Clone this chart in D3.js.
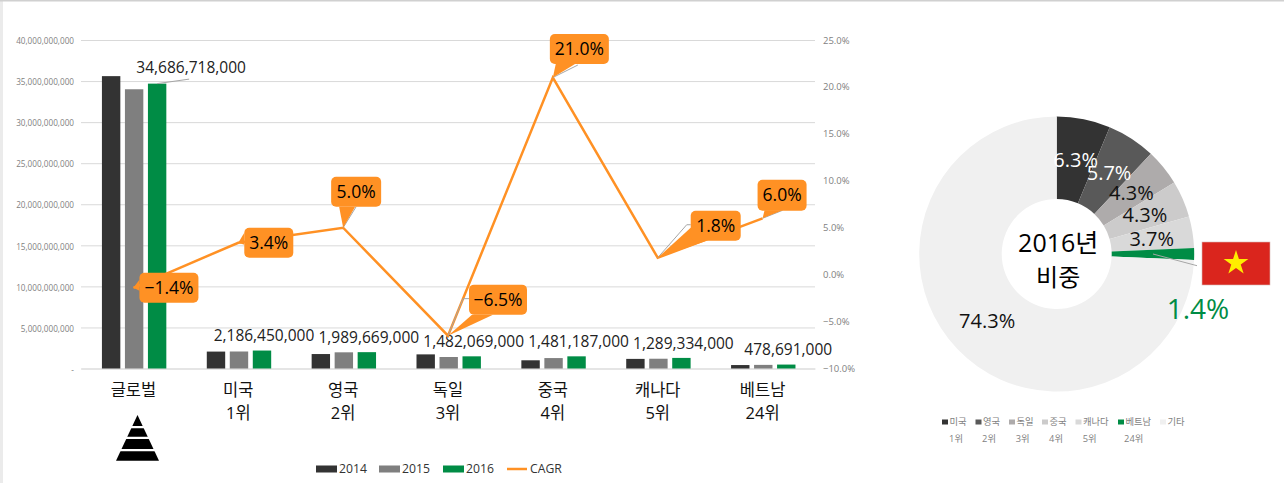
<!DOCTYPE html>
<html lang="ko">
<head>
    <meta charset="UTF-8">
    <title>2016 CAGR</title>
    <style>
        html, body { margin: 0; padding: 0; background: #fff; }
        svg { display: block; }
        text { font-family: "Open Sans", "Noto Sans CJK KR", sans-serif; }
        .tick text { fill: #7f7f7f; }
        .grid .tick line { stroke: #d9d9d9; }
        .cat .tick text { fill: #111; font-size: 16.5px; }
    </style>
</head>
<body>
    <svg width="1284" height="483"></svg>
    <script src="https://d3js.org/d3.v7.min.js"></script>
    <script>
        // Bar + line data
        const categories = ['글로벌', '미국', '영국', '독일', '중국', '캐나다', '베트남'];
        const ranks = ['', '1위', '2위', '3위', '4위', '5위', '24위'];
        const years = ['2014', '2015', '2016'];
        const values2014 = [35600000000, 2060000000, 1760000000, 1720000000, 1000000000, 1170000000, 420000000];
        const values2015 = [34000000000, 2070000000, 1970000000, 1400000000, 1270000000, 1190000000, 440000000];
        const values2016 = [34686718000, 2186450000, 1989669000, 1482069000, 1481187000, 1289334000, 478691000];
        const cagr = [-1.4, 3.4, 5.0, -6.5, 21.0, 1.8, 6.0];
        const yearColors = ['#333333', '#7f7f7f', '#008c45'];
        const lineColor = '#ff9124';

        // Donut data
        const shareNames = ['미국', '영국', '독일', '중국', '캐나다', '베트남', '기타'];
        const shareRanks = ['1위', '2위', '3위', '4위', '5위', '24위', ''];
        const shareValues = [6.3, 5.7, 4.3, 4.3, 3.7, 1.4, 74.3];
        const shareColors = ['#333333', '#595959', '#aeabab', '#cccbcb', '#d9d9d9', '#008c45', '#f0f0f0'];
        const shareTextColors = ['#fff', '#fff', '#111', '#111', '#111', 'none', '#111'];

        // Callout layout, offsets from the data point: box, pointer base, grey leader
        const callouts = [
            { box: [6, -15, 59, 30], base: [[6, -8], [6, 3]], leader: [] },
            { box: [6, -15, 49, 30], base: [[6, -10], [6, 2]], leader: [] },
            { box: [-12, -51, 50, 30], base: [[-4, -21], [12, -21]], leader: [[13, -21]] },
            { box: [21, -51, 58, 30], base: [[24, -21], [45, -21]], leader: [[15, -37], [21, -37]] },
            { box: [-3, -43.5, 59, 30], base: [[3, -14], [23, -14]], leader: [[25, -12.5]] },
            { box: [33, -47, 50, 30], base: [[33, -30], [49, -17]], leader: [[29, -33], [33, -33]] },
            { box: [-5, -38.5, 49, 31], base: [[2, -8], [20, -8]], leader: [[20, -8]] }
        ];

        const plot = { left: 81, right: 815, top: 40, bottom: 368.5 };

        const svg = d3.select('svg');

        // page edge
        svg.append('rect').attr('width', 3).attr('height', 483).attr('fill', '#ebebeb');
        svg.append('rect').attr('width', 1284).attr('height', 1.5).attr('fill', '#d0d0d0');

        const xScale = d3.scaleBand().domain(categories).range([plot.left, plot.right]);
        const xInner = d3.scaleBand().domain(years).range([0, 64.4]).paddingInner(0.2);
        const yLeft = d3.scaleLinear().domain([0, 40000000000]).range([plot.bottom, plot.top]);
        const yRight = d3.scaleLinear().domain([-10, 25]).range([plot.bottom, plot.top]);

        const leftAxis = d3.axisLeft(yLeft)
            .ticks(8)
            .tickSize(-(plot.right - plot.left))
            .tickPadding(7)
            .tickFormat(function (d) { return d === 0 ? '-' : d3.format(',')(d); });

        const leftG = svg.append('g')
            .attr('class', 'grid')
            .attr('transform', 'translate(' + plot.left + ' 0)')
            .call(leftAxis);
        leftG.select('.domain').remove();
        leftG.selectAll('text').style('font-size', '8.2px').attr('dy', '.45em');

        const rightAxis = d3.axisRight(yRight)
            .ticks(7)
            .tickSize(0)
            .tickPadding(8)
            .tickFormat(function (d) { return d3.format('.1f')(d) + '%'; });

        const rightG = svg.append('g')
            .attr('transform', 'translate(' + plot.right + ' 0)')
            .call(rightAxis);
        rightG.select('.domain').remove();
        rightG.selectAll('text').style('font-size', '9.5px');

        // Category axis with the rank on a second line
        const catG = svg.append('g')
            .attr('class', 'cat')
            .attr('transform', 'translate(0 ' + plot.bottom + ')')
            .call(d3.axisBottom(xScale).tickSize(0));
        catG.select('.domain').attr('stroke', '#e3e3e3').attr('stroke-width', 1.5);
        catG.selectAll('.tick text').attr('y', 27).attr('dy', 0);
        catG.selectAll('.tick')
            .append('text')
            .attr('y', 50)
            .attr('text-anchor', 'middle')
            .text(function (d, i) { return ranks[i]; });

        // Bars
        const groupShift = xScale.bandwidth() / 2 - 31.5;
        const series = [values2014, values2015, values2016];
        series.forEach(function (values, s) {
            svg.append('g')
                .selectAll('rect')
                .data(values)
                .join('rect')
                .attr('x', function (d, i) {
                    return xScale(categories[i]) + groupShift + xInner(years[s]);
                })
                .attr('y', function (d) { return yLeft(d); })
                .attr('width', xInner.bandwidth())
                .attr('height', function (d) { return plot.bottom - yLeft(d); })
                .attr('fill', yearColors[s]);
        });

        function barCenter(i) {
            return xScale(categories[i]) + groupShift + xInner('2016') + xInner.bandwidth() / 2;
        }

        // 2016 value labels
        svg.append('g')
            .selectAll('text')
            .data(values2016)
            .join('text')
            .attr('x', function (d, i) { return barCenter(i) + (i === 0 ? 34 : 2); })
            .attr('y', function (d, i) { return yLeft(d) - (i === 0 ? 16 : 14.5); })
            .attr('dy', '.35em')
            .attr('text-anchor', 'middle')
            .attr('fill', '#222')
            .style('font-size', '15.5px')
            .text(d3.format(','));

        svg.append('line')
            .attr('x1', barCenter(0))
            .attr('y1', yLeft(values2016[0]))
            .attr('x2', barCenter(0) + 32)
            .attr('y2', yLeft(values2016[0]) - 4.5)
            .attr('stroke', '#a6a6a6');

        // CAGR line
        const pointX = function (i) { return xScale(categories[i]) + xScale.bandwidth() / 2; };
        const line = d3.line()
            .x(function (d, i) { return pointX(i); })
            .y(function (d) { return yRight(d); });

        svg.append('path')
            .attr('fill', 'none')
            .attr('stroke', lineColor)
            .attr('stroke-width', 2.5)
            .attr('d', line(cagr));

        // Callouts
        const calloutG = svg.append('g')
            .selectAll('g')
            .data(cagr)
            .join('g')
            .attr('transform', function (d, i) {
                return 'translate(' + pointX(i) + ' ' + yRight(d) + ')';
            });

        calloutG.append('path')
            .attr('fill', 'none')
            .attr('stroke', '#a6a6a6')
            .attr('d', function (d, i) {
                return d3.line()([[0, 0]].concat(callouts[i].leader));
            });

        calloutG.append('path')
            .attr('fill', lineColor)
            .attr('d', function (d, i) {
                return d3.line()([[0, 0]].concat(callouts[i].base)) + 'Z';
            });

        calloutG.append('rect')
            .attr('x', function (d, i) { return callouts[i].box[0]; })
            .attr('y', function (d, i) { return callouts[i].box[1]; })
            .attr('width', function (d, i) { return callouts[i].box[2]; })
            .attr('height', function (d, i) { return callouts[i].box[3]; })
            .attr('rx', 5)
            .attr('fill', lineColor);

        calloutG.append('text')
            .attr('x', function (d, i) { return callouts[i].box[0] + callouts[i].box[2] / 2; })
            .attr('y', function (d, i) { return callouts[i].box[1] + callouts[i].box[3] / 2; })
            .attr('dy', '.35em')
            .attr('text-anchor', 'middle')
            .attr('fill', '#000')
            .style('font-size', '17.5px')
            .text(function (d) { return d3.format('.1f')(d) + '%'; });

        // Pyramid icon under the global column
        const icon = svg.append('g').attr('transform', 'translate(137.5 415)');
        icon.append('path').attr('d', 'M0 0L21.5 45.7L-21.5 45.7Z').attr('fill', '#000');
        [12.2, 22.8, 35.2].forEach(function (y) {
            icon.append('line')
                .attr('x1', -24).attr('x2', 24)
                .attr('y1', y).attr('y2', y)
                .attr('stroke', '#fff').attr('stroke-width', 2.2);
        });

        // Main legend
        const legendItems = [
            { x: 316, label: years[0], color: yearColors[0] },
            { x: 379, label: years[1], color: yearColors[1] },
            { x: 443, label: years[2], color: yearColors[2] }
        ];
        const legendG = svg.append('g');
        legendG.selectAll('rect')
            .data(legendItems)
            .join('rect')
            .attr('x', function (d) { return d.x; })
            .attr('y', 465.5)
            .attr('width', 21)
            .attr('height', 7)
            .attr('fill', function (d) { return d.color; });
        legendG.append('line')
            .attr('x1', 507).attr('x2', 527)
            .attr('y1', 469).attr('y2', 469)
            .attr('stroke', lineColor).attr('stroke-width', 2.5);
        legendG.selectAll('text')
            .data(legendItems.concat([{ x: 507, label: 'CAGR' }]))
            .join('text')
            .attr('x', function (d) { return d.x + 23; })
            .attr('y', 469)
            .attr('dy', '.35em')
            .attr('fill', '#333')
            .style('font-size', '12.2px')
            .text(function (d) { return d.label; });

        // Donut
        const donut = { cx: 1056.7, cy: 254, inner: 55, outer: 137.5 };
        const pie = d3.pie().sort(null).value(function (d) { return d; });
        const arc = d3.arc().innerRadius(donut.inner).outerRadius(donut.outer);
        const arcs = pie(shareValues);

        const donutG = svg.append('g')
            .attr('transform', 'translate(' + donut.cx + ' ' + donut.cy + ')');

        donutG.selectAll('path')
            .data(arcs)
            .join('path')
            .attr('d', arc)
            .attr('fill', function (d, i) { return shareColors[i]; });

        donutG.selectAll('text.share')
            .data(arcs)
            .join('text')
            .attr('class', 'share')
            .attr('transform', function (d) { return 'translate(' + arc.centroid(d) + ')'; })
            .attr('dy', '.35em')
            .attr('text-anchor', 'middle')
            .attr('fill', function (d, i) { return shareTextColors[i]; })
            .style('font-size', '20px')
            .text(function (d) { return d.data + '%'; });

        donutG.append('text')
            .attr('x', 1.5).attr('y', -11)
            .attr('dy', '.35em')
            .attr('text-anchor', 'middle')
            .attr('fill', '#000')
            .style('font-size', '25px')
            .text('2016년');
        donutG.append('text')
            .attr('x', 1.5).attr('y', 24)
            .attr('dy', '.35em')
            .attr('text-anchor', 'middle')
            .attr('fill', '#000')
            .style('font-size', '24px')
            .text('비중');

        // Vietnam flag, leader and share
        svg.append('line')
            .attr('x1', 1153).attr('y1', 254)
            .attr('x2', 1197).attr('y2', 265.7)
            .attr('stroke', '#a6a6a6');
        svg.append('rect')
            .attr('x', 1202).attr('y', 242)
            .attr('width', 68).attr('height', 43)
            .attr('fill', '#da251d')
            .attr('stroke', '#d8b8b6')
            .attr('stroke-width', 0.6);
        svg.append('path')
            .attr('transform', 'translate(1236 263)')
            .attr('d', d3.symbol(d3.symbolStar, 190)())
            .attr('fill', '#ffee00');
        svg.append('text')
            .attr('x', 1198).attr('y', 309)
            .attr('dy', '.35em')
            .attr('text-anchor', 'middle')
            .attr('fill', shareColors[5])
            .style('font-size', '28px')
            .text(shareValues[5] + '%');

        // Donut legend
        const shareLegendX = [942, 975.5, 1009, 1042, 1075.5, 1118, 1160];
        const shareRankX = [956, 989, 1022.7, 1056, 1089.6, 1133.7];

        const shareLegend = svg.append('g');
        shareLegend.selectAll('rect')
            .data(shareNames)
            .join('rect')
            .attr('x', function (d, i) { return shareLegendX[i]; })
            .attr('y', 419.5)
            .attr('width', 6)
            .attr('height', 5)
            .attr('fill', function (d, i) { return shareColors[i]; });
        shareLegend.selectAll('text.name')
            .data(shareNames)
            .join('text')
            .attr('class', 'name')
            .attr('x', function (d, i) { return shareLegendX[i] + 7.5; })
            .attr('y', 422)
            .attr('dy', '.35em')
            .attr('fill', '#7f7f7f')
            .style('font-size', '9.3px')
            .text(function (d) { return d; });
        shareLegend.selectAll('text.rank')
            .data(shareRanks.slice(0, 6))
            .join('text')
            .attr('class', 'rank')
            .attr('x', function (d, i) { return shareRankX[i]; })
            .attr('y', 439)
            .attr('dy', '.35em')
            .attr('text-anchor', 'middle')
            .attr('fill', '#7f7f7f')
            .style('font-size', '9.3px')
            .text(function (d) { return d; });
    </script>
</body>
</html>
